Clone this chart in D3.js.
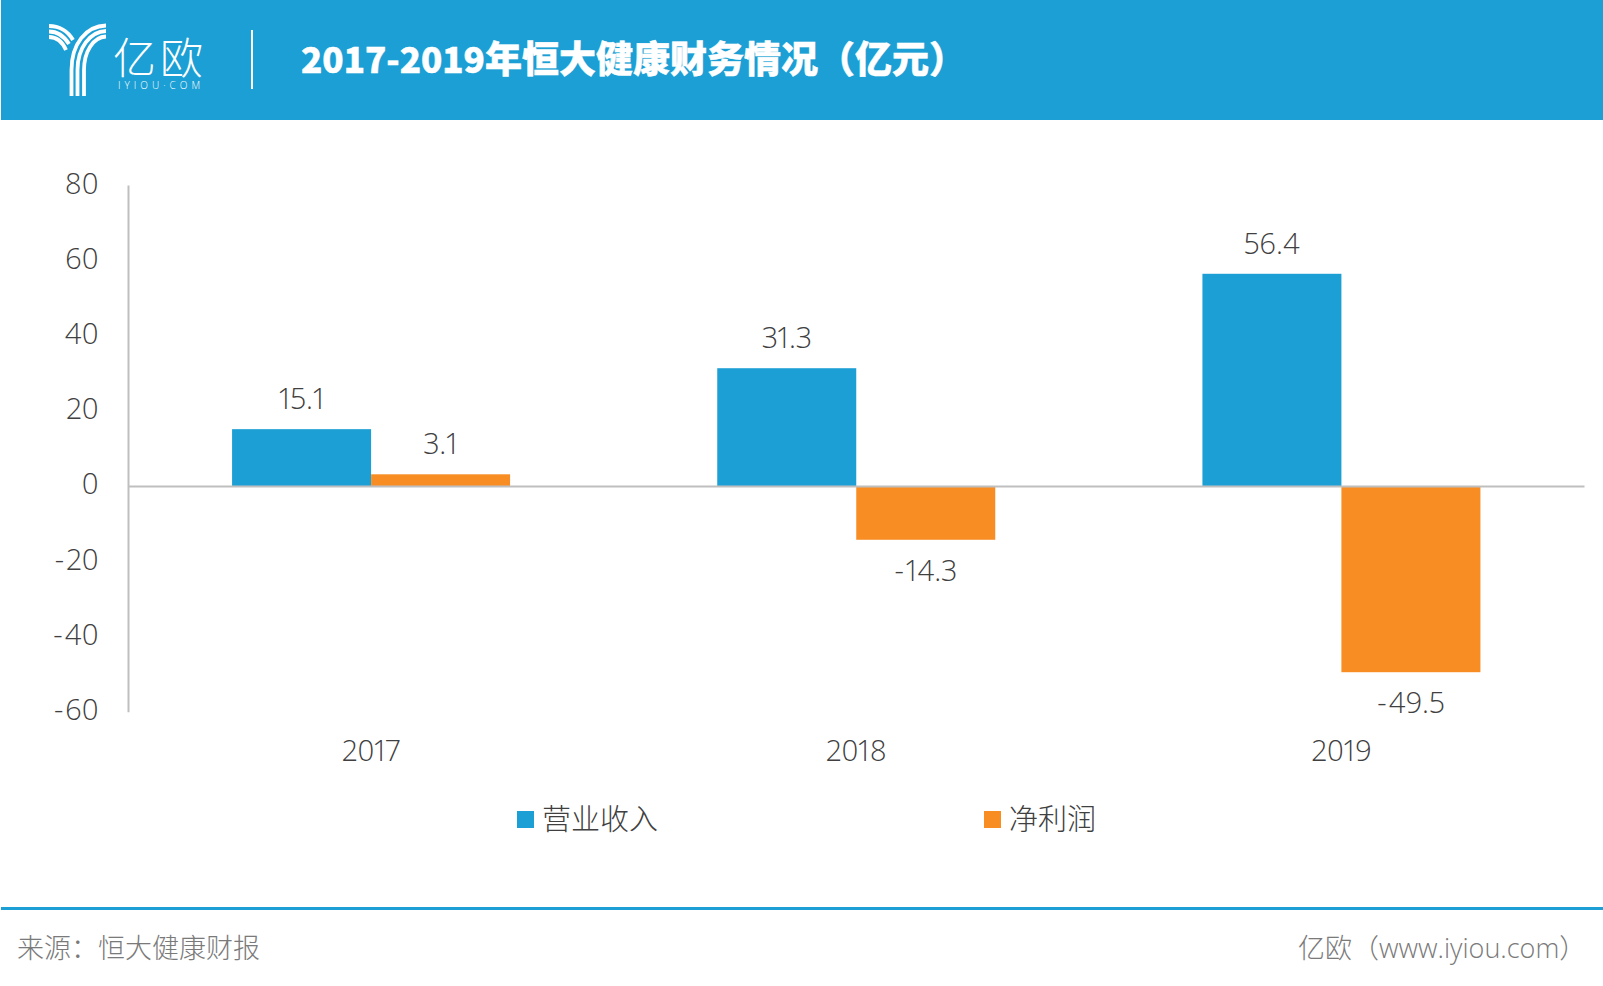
<!DOCTYPE html>
<html>
<head>
    <meta charset="utf-8">
    <title>2017-2019年恒大健康财务情况（亿元）</title>
    <style>
        html, body {
            margin: 0;
            padding: 0;
            background: #fff;
            overflow: hidden;
        }

        text {
            font-family: "Open Sans", "Noto Sans CJK SC", sans-serif;
            font-weight: 300;
        }

        .cjk {
            font-family: "Noto Sans CJK SC", sans-serif;
            font-weight: 300;
        }

        .num {
            font-size: 29px;
            letter-spacing: 0;
            font-variant-numeric: proportional-nums;
            fill: #404040;
        }
    </style>
    <script src="https://cdn.jsdelivr.net/npm/d3@7"></script>
</head>
<body>
    <svg id="chart" width="1603" height="986"></svg>
    <script type="text/javascript">

        var titleLatin = "2017-2019";
        var titleCjk = "年恒大健康财务情况（亿元）";
        var sourceText = "来源：恒大健康财报";
        var siteText = "亿欧（www.iyiou.com）";

        var years = ["2017", "2018", "2019"];
        var seriesNames = ["营业收入", "净利润"];
        var revenue = [15.1, 31.3, 56.4];
        var netProfit = [3.1, -14.3, -49.5];
        var yTicks = [80, 60, 40, 20, 0, -20, -40, -60];

        var blue = "#1c9fd4";
        var orange = "#f78d23";
        var axisGrey = "#bfbfbf";

        var svg = d3.select("#chart");

        // the minus sign sits a little away from the digits in the picture
        function writeNumber(sel) {
            sel.text(null);
            sel.each(function (d) {
                var v = typeof d === "object" ? d.value : d;
                var t = d3.select(this);
                if (v < 0) {
                    t.append("tspan").text("-");
                    t.append("tspan").attr("dx", 2).text(Math.abs(v));
                } else {
                    t.append("tspan").text(v);
                }
            });
        }

        // header band
        svg.append("rect").attr("x", 1).attr("y", 0).attr("width", 1602).attr("height", 120).attr("fill", blue);

        // logo
        var logo = svg.append("g").attr("fill", "none").attr("stroke", "#fff").attr("stroke-width", 3.8);
        [
            "M71.5,96 V70 C71.5,44 86,26 106,25.5",
            "M77.5,96 V70 C77.5,48 90,31.5 106,31",
            "M84,96 V70 C84,52 93,37 106,36.5",
            "M49,26 C59,26 68,31 73,40",
            "M49,31.5 C57,31.5 64,36 69,44",
            "M49,37 C56,37 62,41 66,50"
        ].forEach(function (d) {
            logo.append("path").attr("d", d);
        });

        svg.append("text").attr("class", "cjk")
            .attr("x", 113).attr("y", 74)
            .attr("font-size", 43).attr("letter-spacing", 4).attr("fill", "#fff")
            .text("亿欧");
        svg.append("text")
            .attr("x", 118).attr("y", 88.5)
            .attr("font-size", 10).attr("letter-spacing", 4).attr("fill", "#fff")
            .text("IYIOU·COM");

        svg.append("rect").attr("x", 251).attr("y", 30).attr("width", 2).attr("height", 59).attr("fill", "#fff");

        var title = svg.append("text")
            .attr("x", 301).attr("y", 73)
            .style("font-family", "'Noto Sans CJK SC', sans-serif")
            .style("font-weight", 900)
            .attr("fill", "#fff")
            .attr("stroke", "#fff")
            .attr("stroke-width", 0.5);
        title.append("tspan").attr("font-size", 35).text(titleLatin);
        title.append("tspan").attr("font-size", 37).text(titleCjk);

        // scales
        var y = d3.scaleLinear().domain([-60, 80]).range([711.7, 185]);
        var x0 = d3.scaleBand().domain(years).range([128.5, 1584]).paddingInner(0.427).paddingOuter(0.2135);
        var x1 = d3.scaleBand().domain(seriesNames).range([0, x0.bandwidth()]);
        var colour = d3.scaleOrdinal().domain(seriesNames).range([blue, orange]);

        // bars
        var rows = years.map(function (year, i) {
            return { year: year, values: [
                { name: seriesNames[0], value: revenue[i] },
                { name: seriesNames[1], value: netProfit[i] }
            ] };
        });

        var groups = svg.selectAll("g.year")
            .data(rows)
            .enter()
            .append("g")
            .attr("class", "year")
            .attr("transform", function (d) { return "translate(" + x0(d.year) + ",0)"; });

        groups.selectAll("rect")
            .data(function (d) { return d.values; })
            .enter()
            .append("rect")
            .attr("x", function (d) { return x1(d.name); })
            .attr("y", function (d) { return y(Math.max(0, d.value)); })
            .attr("width", x1.bandwidth())
            .attr("height", function (d) { return Math.abs(y(d.value) - y(0)); })
            .attr("fill", function (d) { return colour(d.name); });

        groups.selectAll("text")
            .data(function (d) { return d.values; })
            .enter()
            .append("text")
            .attr("class", "num")
            .attr("text-anchor", "middle")
            .attr("x", function (d) { return x1(d.name) + x1.bandwidth() / 2; })
            .attr("y", function (d) { return d.value >= 0 ? y(d.value) - 20 : y(d.value) + 41; })
            .call(writeNumber);

        // axes
        var yAxis = d3.axisLeft(y).tickValues(yTicks).tickSize(0).tickPadding(29.5);
        var yg = svg.append("g").attr("transform", "translate(128,0)").call(yAxis);
        yg.select(".domain").attr("stroke", axisGrey).attr("stroke-width", 2);
        yg.selectAll("text").attr("class", "num").attr("dy", 8).call(writeNumber);

        var xAxis = d3.axisBottom(x0).tickSize(0);
        var xg = svg.append("g").attr("transform", "translate(0," + y(0) + ")").call(xAxis);
        xg.select(".domain").attr("stroke", axisGrey).attr("stroke-width", 2);
        xg.selectAll("text").attr("class", "num").attr("y", 275).attr("dy", 0);

        // legend
        var legend = svg.selectAll("g.legend")
            .data(seriesNames)
            .enter()
            .append("g")
            .attr("class", "legend")
            .attr("transform", function (d, i) { return "translate(" + [517, 984][i] + ",811)"; });

        legend.append("rect").attr("width", 17).attr("height", 17).attr("fill", function (d) { return colour(d); });
        legend.append("text")
            .attr("class", "cjk")
            .attr("x", 25).attr("y", 18.5)
            .attr("font-size", 29).attr("fill", "#404040")
            .text(function (d) { return d; });

        // footer
        svg.append("rect").attr("x", 1).attr("y", 907).attr("width", 1602).attr("height", 3).attr("fill", blue);
        svg.append("text").attr("class", "cjk")
            .attr("x", 17).attr("y", 958)
            .attr("font-size", 27).attr("fill", "#7a7a7a")
            .text(sourceText);
        svg.append("text")
            .attr("x", 1298).attr("y", 958)
            .attr("font-size", 27).attr("fill", "#7a7a7a")
            .text(siteText);
    </script>
</body>
</html>
